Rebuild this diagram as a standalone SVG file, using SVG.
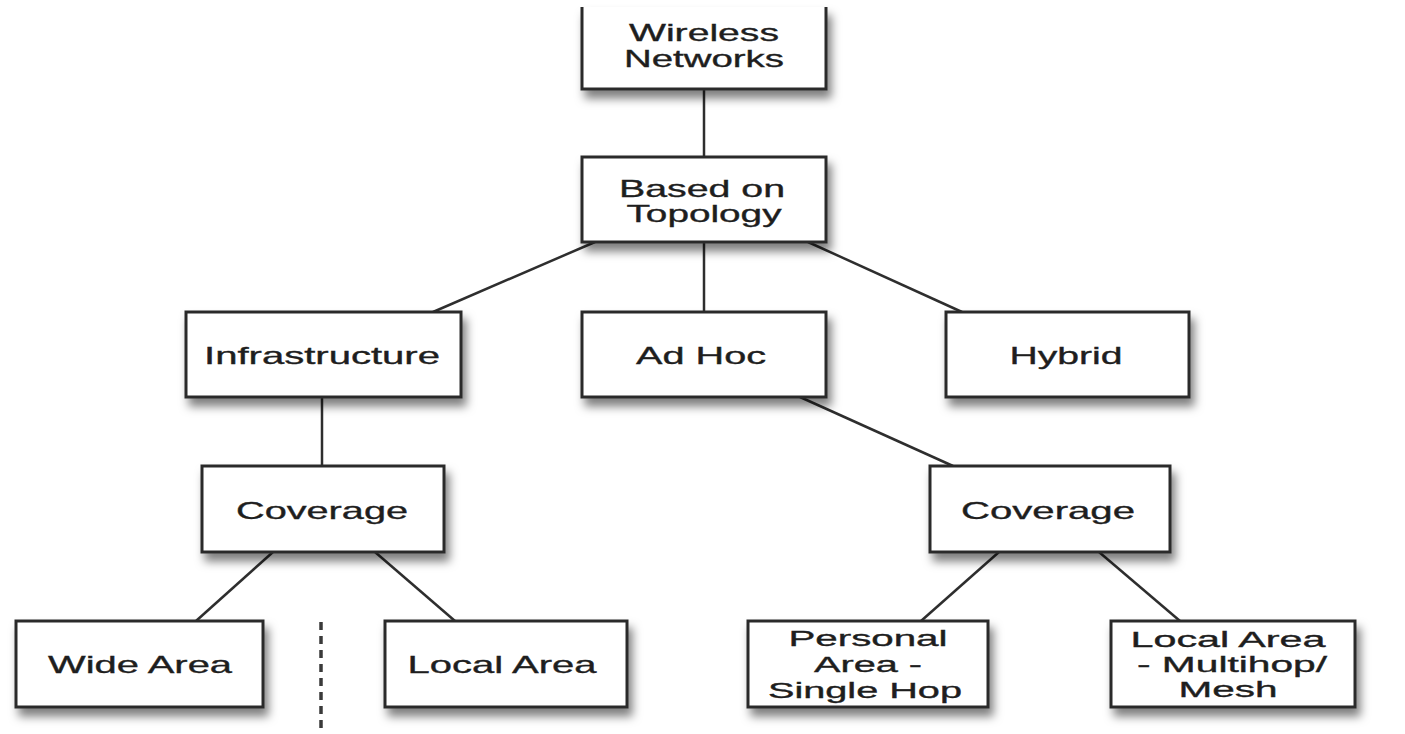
<svg xmlns="http://www.w3.org/2000/svg" width="1405" height="734" viewBox="0 0 1405 734">
  <style>
    .box { fill: #ffffff; stroke: #2b2b2b; stroke-width: 3; filter: url(#shadow); }
    .lbl { font-family: "Liberation Sans", Arial, Helvetica, sans-serif; font-size: 24px; fill: #1e1e1e; stroke: #1e1e1e; stroke-width: 0.35; text-anchor: middle; }
    .sm { font-size: 22px; }
    .edge { stroke: #2e2e2e; stroke-width: 2.5; fill: none; }
    .sep { stroke: #3a3a3a; stroke-width: 3.5; stroke-dasharray: 8 6; fill: none; }
  </style>
  <defs>
    <filter id="shadow" x="-10%" y="-20%" width="125%" height="170%">
      <feDropShadow dx="4" dy="8" stdDeviation="5" flood-color="#000000" flood-opacity="0.5"/>
    </filter>
  </defs>
  <rect width="1405" height="734" fill="#ffffff"/>

  <!-- connectors -->
  <g id="connectors">
    <line class="edge" x1="704" y1="89" x2="704" y2="157"/>
    <line class="edge" x1="595" y1="242" x2="433" y2="312"/>
    <line class="edge" x1="704" y1="242" x2="704" y2="312"/>
    <line class="edge" x1="808" y1="242" x2="962" y2="312"/>
    <line class="edge" x1="322" y1="397" x2="322" y2="466"/>
    <line class="edge" x1="800" y1="397" x2="953" y2="466"/>
    <line class="edge" x1="273" y1="552" x2="196" y2="621"/>
    <line class="edge" x1="375" y1="552" x2="455" y2="621"/>
    <line class="edge" x1="999" y1="552" x2="921" y2="621"/>
    <line class="edge" x1="1099" y1="552" x2="1180" y2="621"/>
    <line class="sep" x1="321" y1="622" x2="321" y2="734"/>
  </g>

  <!-- root: top edge runs off the page -->
  <g id="wireless-networks">
    <path class="box" d="M582,7 V89 H826 V7"/>
    <text class="lbl" x="704" y="41" textLength="150" lengthAdjust="spacingAndGlyphs">Wireless</text>
    <text class="lbl" x="704" y="67" textLength="160" lengthAdjust="spacingAndGlyphs">Networks</text>
  </g>

  <g id="based-on-topology">
    <rect class="box" x="582" y="157" width="244" height="85"/>
    <text class="lbl" x="702" y="197" textLength="166" lengthAdjust="spacingAndGlyphs">Based on</text>
    <text class="lbl" x="704" y="222" textLength="155" lengthAdjust="spacingAndGlyphs">Topology</text>
  </g>

  <g id="infrastructure">
    <rect class="box" x="186" y="312" width="275" height="85"/>
    <text class="lbl" x="322" y="364" textLength="236" lengthAdjust="spacingAndGlyphs">Infrastructure</text>
  </g>

  <g id="ad-hoc">
    <rect class="box" x="582" y="312" width="244" height="85"/>
    <text class="lbl" x="701" y="364" textLength="130" lengthAdjust="spacingAndGlyphs">Ad Hoc</text>
  </g>

  <g id="hybrid">
    <rect class="box" x="946" y="312" width="243" height="85"/>
    <text class="lbl" x="1066" y="364" textLength="113" lengthAdjust="spacingAndGlyphs">Hybrid</text>
  </g>

  <g id="coverage-infra">
    <rect class="box" x="202" y="466" width="242" height="86"/>
    <text class="lbl" x="322" y="519" textLength="172" lengthAdjust="spacingAndGlyphs">Coverage</text>
  </g>

  <g id="coverage-adhoc">
    <rect class="box" x="930" y="466" width="240" height="86"/>
    <text class="lbl" x="1048" y="519" textLength="174" lengthAdjust="spacingAndGlyphs">Coverage</text>
  </g>

  <g id="wide-area">
    <rect class="box" x="16" y="621" width="247" height="86"/>
    <text class="lbl" x="140" y="673" textLength="184" lengthAdjust="spacingAndGlyphs">Wide Area</text>
  </g>

  <g id="local-area">
    <rect class="box" x="385" y="621" width="242" height="86"/>
    <text class="lbl" x="502" y="673" textLength="189" lengthAdjust="spacingAndGlyphs">Local Area</text>
  </g>

  <g id="personal-area">
    <rect class="box" x="748" y="621" width="240" height="86"/>
    <text class="lbl sm" x="868" y="646" textLength="159" lengthAdjust="spacingAndGlyphs">Personal</text>
    <text class="lbl sm" x="868" y="672" textLength="108" lengthAdjust="spacingAndGlyphs">Area -</text>
    <text class="lbl sm" x="865" y="698" textLength="194" lengthAdjust="spacingAndGlyphs">Single Hop</text>
  </g>

  <g id="local-area-mesh">
    <rect class="box" x="1111" y="621" width="244" height="86"/>
    <text class="lbl sm" x="1228" y="647" textLength="195" lengthAdjust="spacingAndGlyphs">Local Area</text>
    <text class="lbl sm" x="1232" y="672" textLength="190" lengthAdjust="spacingAndGlyphs">- Multihop/</text>
    <text class="lbl sm" x="1228" y="697" textLength="99" lengthAdjust="spacingAndGlyphs">Mesh</text>
  </g>
</svg>
